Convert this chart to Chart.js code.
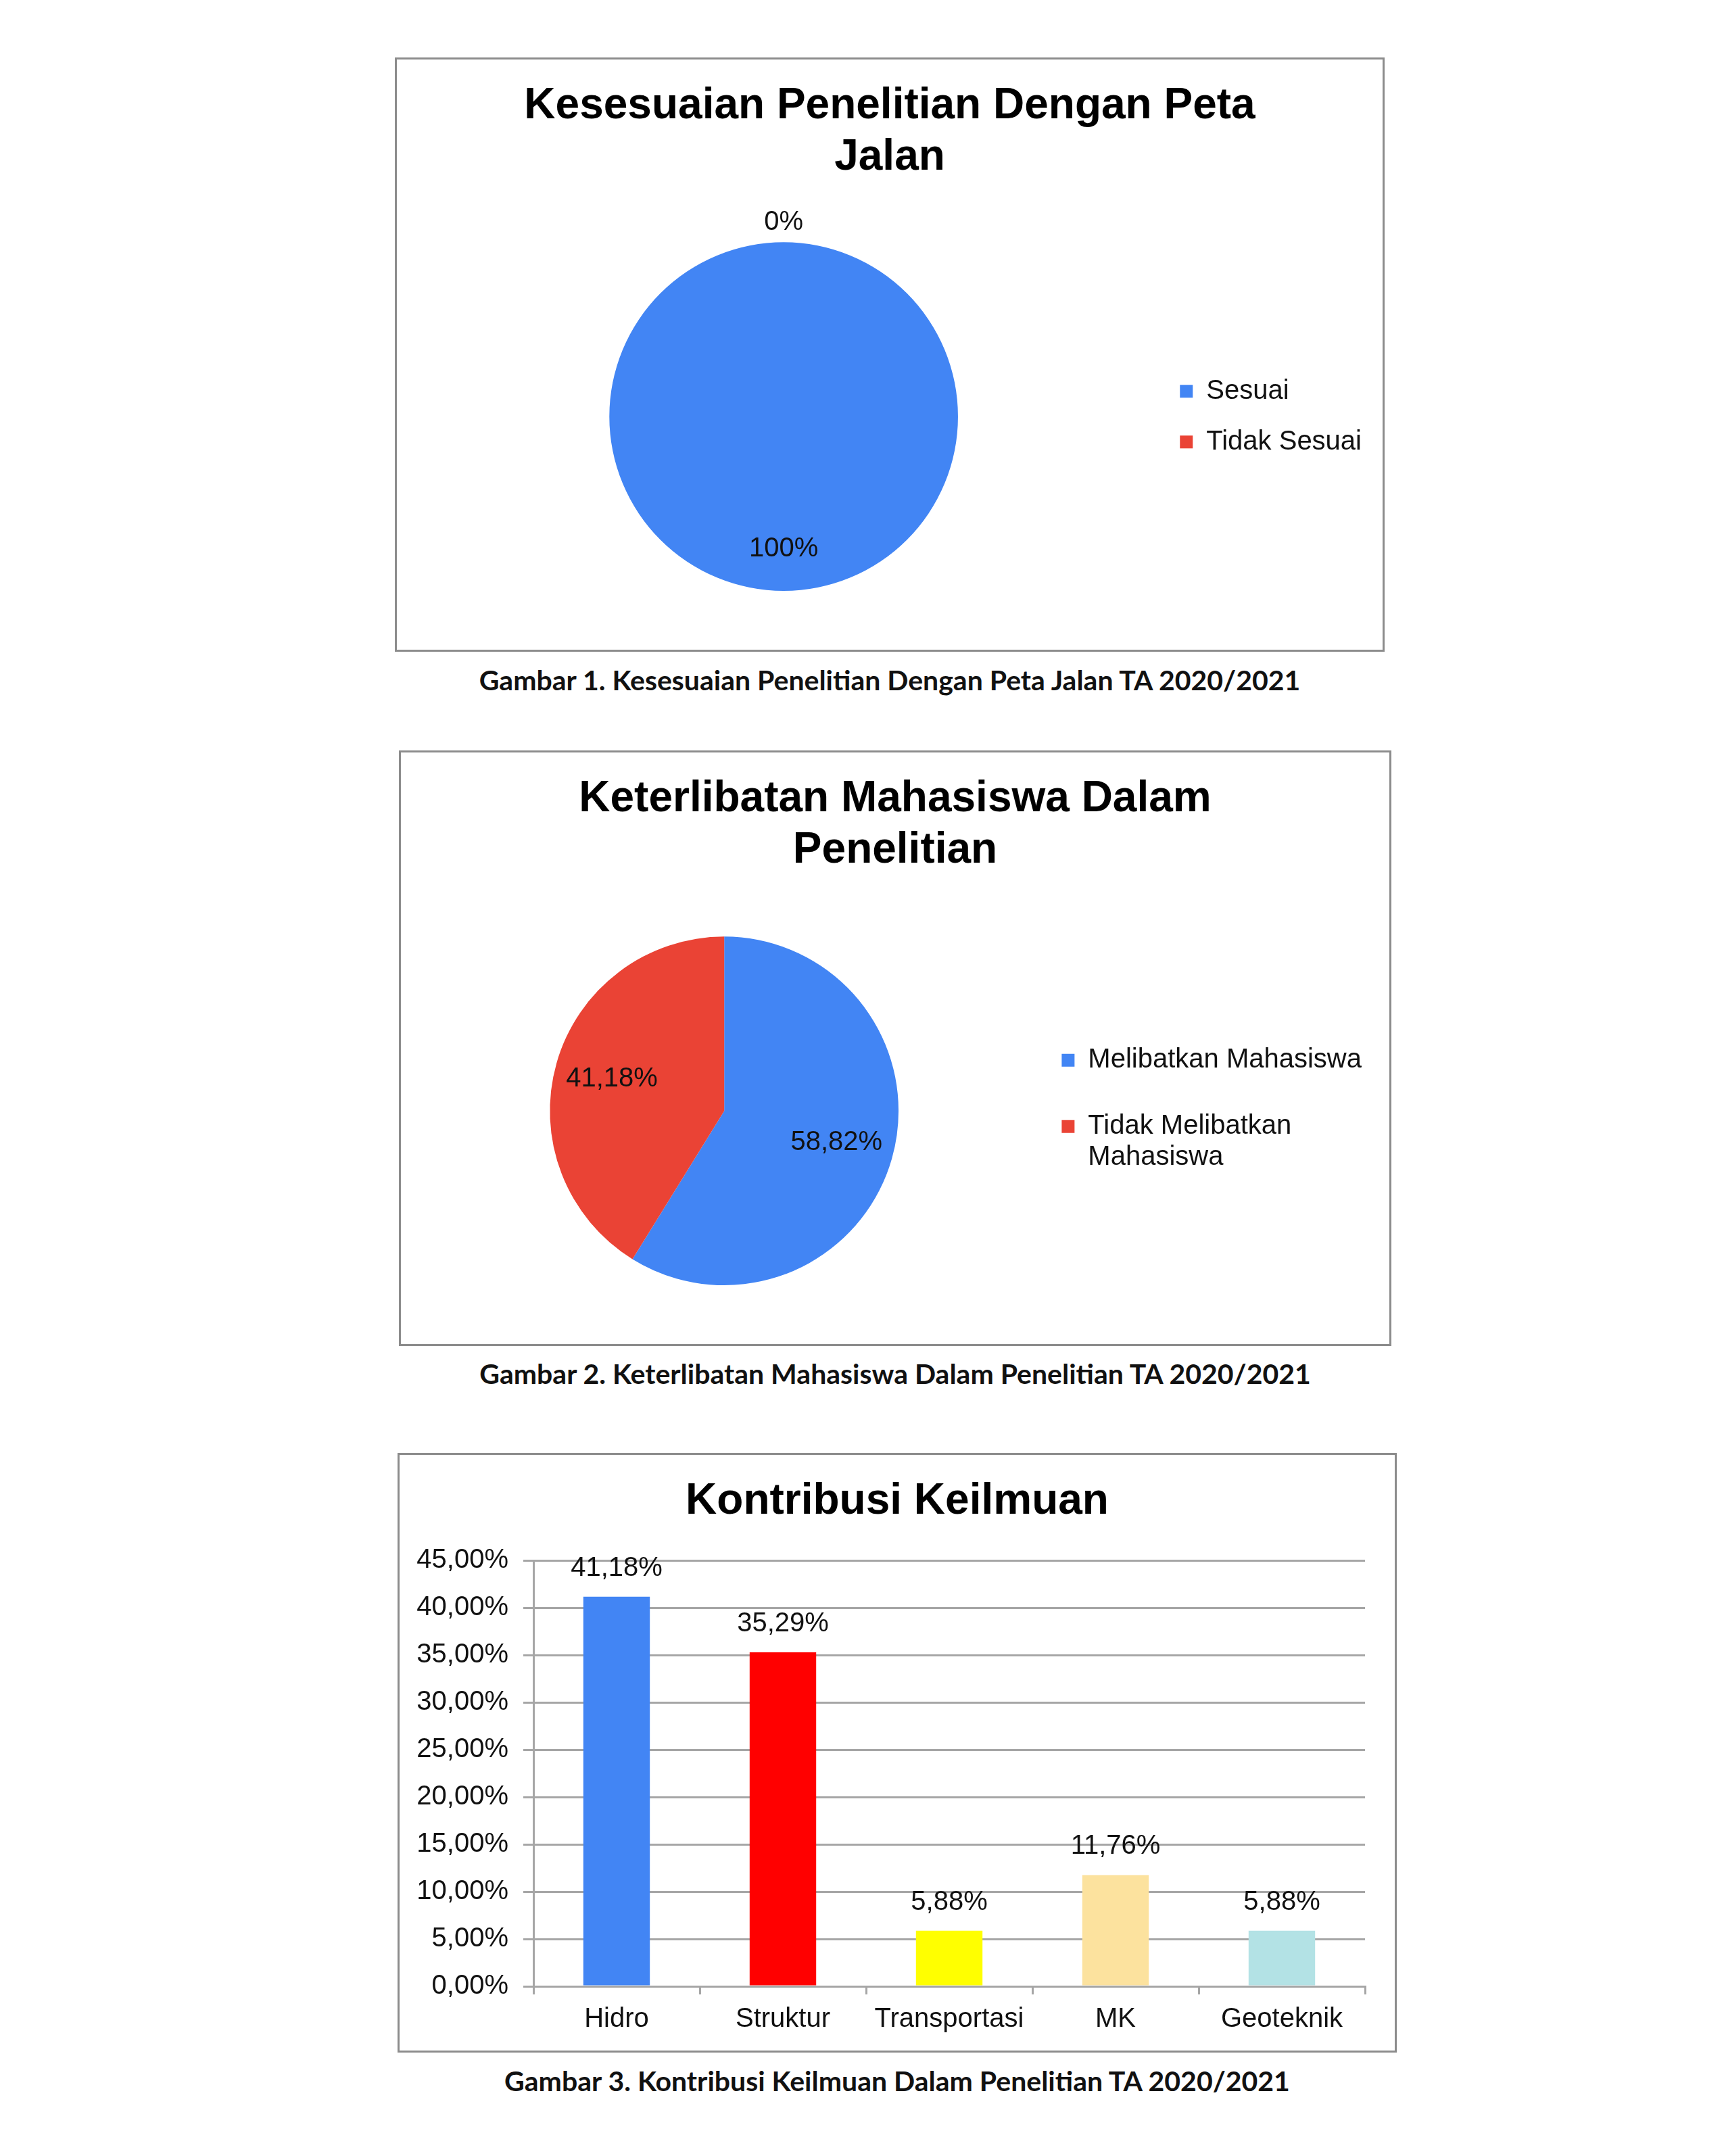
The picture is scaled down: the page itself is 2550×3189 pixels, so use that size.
<!DOCTYPE html>
<html>
<head>
<meta charset="utf-8">
<title>Grafik Penelitian TA 2020/2021</title>
<script src="https://cdn.jsdelivr.net/npm/chart.js@4.4.1/dist/chart.umd.min.js"></script>
<style>
  html, body {
    margin: 0;
    padding: 0;
    background: #ffffff;
  }
  body {
    position: relative;
    width: 2550px;
    height: 3189px;
    overflow: hidden;
  }
  .frame {
    position: absolute;
    box-sizing: border-box;
    border: 3px solid #8c8c8c;
  }
  .chart {
    position: absolute;
  }
  .caption {
    position: absolute;
    text-align: center;
    font-family: Lato, "Open Sans", sans-serif;
    font-weight: bold;
    font-size: 41px;
    line-height: 41px;
    color: #111111;
  }
</style>
</head>
<body>

<div class="frame" style="left:584px; top:85px; width:1464px; height:879px;"></div>
<div class="chart" style="left:584px; top:85px; width:1464px; height:879px;"><canvas id="chart-peta"></canvas></div>
<div class="caption" style="left:584px; top:985px; width:1464px;">Gambar 1. Kesesuaian Penelitian Dengan Peta Jalan TA 2020/2021</div>

<div class="frame" style="left:590px; top:1110px; width:1468px; height:881px;"></div>
<div class="chart" style="left:590px; top:1110px; width:1468px; height:881px;"><canvas id="chart-mahasiswa"></canvas></div>
<div class="caption" style="left:590px; top:2011px; width:1468px;">Gambar 2. Keterlibatan Mahasiswa Dalam Penelitian TA 2020/2021</div>

<div class="frame" style="left:588px; top:2149px; width:1478px; height:887px;"></div>
<div class="chart" style="left:588px; top:2149px; width:1478px; height:887px;"><canvas id="chart-keilmuan"></canvas></div>
<div class="caption" style="left:588px; top:3057px; width:1478px;">Gambar 3. Kontribusi Keilmuan Dalam Penelitian TA 2020/2021</div>

<script>
'use strict';

// Data gambar 1
let petaLabels = ['Sesuai', 'Tidak Sesuai'];
let petaValues = [100, 0];
let petaColors = ['#4285F4', '#EA4335'];

// Data gambar 2
let mahasiswaLabels = [['Melibatkan Mahasiswa'], ['Tidak Melibatkan', 'Mahasiswa']];
let mahasiswaValues = [58.82, 41.18];
let mahasiswaColors = ['#4285F4', '#EA4335'];

// Data gambar 3
let keilmuanLabels = ['Hidro', 'Struktur', 'Transportasi', 'MK', 'Geoteknik'];
let keilmuanValues = [41.18, 35.29, 5.88, 11.76, 5.88];
let keilmuanColors = ['#4285F4', '#FF0000', '#FFFF00', '#FCE29E', '#B3E2E5'];

// y axis ticks (percent)
let yMin = 0;
let yMax = 45;
let yStep = 5;

let fontFamily = '"Liberation Sans", Arial, sans-serif';
let textColor = '#111111';
let gridColor = '#a6a6a6';

// number format like Excel (Indonesian): 41,18%
function formatPercent(value, decimals) {
  return value.toFixed(decimals).replace('.', ',') + '%';
}

// Draws the value labels on slices and bars
let valueLabels = {
  id: 'valueLabels',
  afterDatasetsDraw(chart, args, opts) {
    let ctx = chart.ctx;
    let meta = chart.getDatasetMeta(0);
    let data = chart.data.datasets[0].data;
    ctx.save();
    ctx.font = '40px ' + fontFamily;
    ctx.fillStyle = textColor;
    ctx.textAlign = 'center';
    ctx.textBaseline = 'middle';
    for (let i = 0; i < meta.data.length; i++) {
      let el = meta.data[i];
      let text = formatPercent(data[i], opts.decimals);
      let x;
      let y;
      if (chart.config.type === 'bar') {
        x = el.x;
        y = el.y - opts.offset;
      } else {
        let p = el.getProps(['x', 'y', 'startAngle', 'endAngle', 'outerRadius'], true);
        let mid = (p.startAngle + p.endAngle) / 2;
        let r = data[i] === 0 ? p.outerRadius + opts.outside : p.outerRadius * opts.inside;
        x = p.x + Math.cos(mid) * r;
        y = p.y + Math.sin(mid) * r;
      }
      ctx.fillText(text, x, y);
    }
    ctx.restore();
  }
};

function titleOptions(lines, bottomPad) {
  return {
    display: true,
    text: lines,
    color: '#000000',
    font: { family: fontFamily, size: 64, weight: 'bold', lineHeight: 1.19 },
    padding: { top: 34, bottom: bottomPad }
  };
}

function legendOptions(spacing) {
  return {
    display: true,
    position: 'right',
    align: 'center',
    fullSize: false,
    onClick: null,
    labels: {
      color: textColor,
      boxWidth: 19,
      boxHeight: 19,
      padding: spacing,
      font: { family: fontFamily, size: 40, lineHeight: 1.15 }
    }
  };
}

// Gambar 1 - pie chart
let ctx1 = document.getElementById('chart-peta');
new Chart(ctx1, {
  type: 'pie',
  data: {
    labels: petaLabels,
    datasets: [{
      data: petaValues,
      backgroundColor: petaColors,
      borderWidth: 0,
      hoverBorderWidth: 0,
      hoverOffset: 0,
      offset: 0
    }]
  },
  options: {
    responsive: true,
    maintainAspectRatio: false,
    animation: false,
    layout: { padding: { left: 24, right: 24, top: 0, bottom: 90 } },
    plugins: {
      title: titleOptions(['Kesesuaian Penelitian Dengan Peta', 'Jalan'], 87),
      legend: legendOptions(35),
      tooltip: { enabled: false },
      valueLabels: { decimals: 0, inside: 0.76, outside: 29 }
    }
  },
  plugins: [valueLabels]
});

// Gambar 2 - pie chart
let ctx2 = document.getElementById('chart-mahasiswa');
new Chart(ctx2, {
  type: 'pie',
  data: {
    labels: mahasiswaLabels,
    datasets: [{
      data: mahasiswaValues,
      backgroundColor: mahasiswaColors,
      borderWidth: 0,
      hoverBorderWidth: 0,
      hoverOffset: 0,
      offset: 0
    }]
  },
  options: {
    responsive: true,
    maintainAspectRatio: false,
    animation: false,
    layout: { padding: { left: 34, right: 34, top: 0, bottom: 90 } },
    plugins: {
      title: titleOptions(['Keterlibatan Mahasiswa Dalam', 'Penelitian'], 89),
      legend: legendOptions(52),
      tooltip: { enabled: false },
      valueLabels: { decimals: 2, inside: 0.67, outside: 29 }
    }
  },
  plugins: [valueLabels]
});

// Gambar 3 - bar chart
let ctx3 = document.getElementById('chart-keilmuan');
new Chart(ctx3, {
  type: 'bar',
  data: {
    labels: keilmuanLabels,
    datasets: [{
      label: 'Kontribusi Keilmuan',
      data: keilmuanValues,
      backgroundColor: keilmuanColors,
      borderWidth: 0,
      barPercentage: 0.4,
      categoryPercentage: 1
    }]
  },
  options: {
    responsive: true,
    maintainAspectRatio: false,
    animation: false,
    layout: { padding: { left: 20, right: 20, top: 0, bottom: 0 } },
    scales: {
      x: {
        afterFit: function (scale) { scale.height = 98; },
        grid: {
          display: true,
          drawOnChartArea: false,
          drawTicks: true,
          tickLength: 12,
          color: gridColor,
          lineWidth: 3
        },
        border: { display: true, color: gridColor, width: 3 },
        ticks: {
          color: textColor,
          padding: 13,
          font: { family: fontFamily, size: 40 }
        }
      },
      y: {
        min: yMin,
        max: yMax,
        afterFit: function (scale) { scale.width = 181; },
        grid: {
          color: gridColor,
          lineWidth: 3,
          tickLength: 15
        },
        border: { display: true, color: gridColor, width: 3 },
        ticks: {
          stepSize: yStep,
          color: textColor,
          padding: 22,
          font: { family: fontFamily, size: 40 },
          callback: function (value) { return formatPercent(value, 2); }
        }
      },
      // empty right margin so the title stays centred on the frame
      yRight: {
        position: 'right',
        display: true,
        afterFit: function (scale) { scale.width = 27; },
        grid: { display: false },
        border: { display: false },
        ticks: { display: false }
      }
    },
    plugins: {
      title: titleOptions('Kontribusi Keilmuan', 49),
      legend: { display: false },
      tooltip: { enabled: false },
      valueLabels: { decimals: 2, offset: 42 }
    }
  },
  plugins: [valueLabels]
});
</script>
</body>
</html>
